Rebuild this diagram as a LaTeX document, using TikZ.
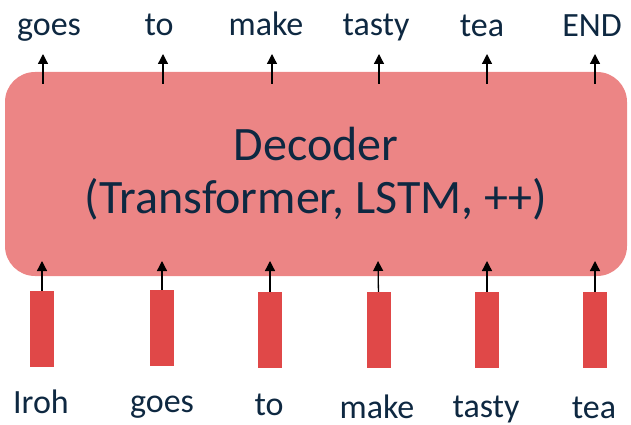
\documentclass[tikz,border=0pt]{standalone}
\usepackage{fontspec}
\setmainfont{Carlito}
\usetikzlibrary{arrows.meta}
\definecolor{ink}{HTML}{0E2841}
\definecolor{decfill}{HTML}{EC8585}
\definecolor{barfill}{HTML}{E04848}

\begin{document}
\begin{tikzpicture}[x=1pt,y=-1pt]
        \tikzstyle{every node}+=[inner sep=0pt]
        \tikzstyle{word}=[text=ink,font=\fontsize{34}{40}\selectfont,anchor=base]
        \tikzstyle{token}=[fill=barfill,minimum width=24pt,minimum height=76pt]
        \tikzstyle{up}=[-{Triangle[length=10pt,width=10pt]},line width=1.3pt]
        \useasboundingbox (0,0) rectangle (631,425);
        % decoder block
        \node [fill=decfill,rounded corners=30pt,minimum width=622pt,minimum height=204pt,
               text=ink,font=\fontsize{48}{53}\selectfont,align=center] (dec) at (316,174)
               {Decoder\\(Transformer, LSTM, ++)};
        % input tokens
        \node [token] (b1) at (42,329) {};
        \node [token] (b2) at (162,328) {};
        \node [token] (b3) at (270,330) {};
        \node [token] (b4) at (379,330) {};
        \node [token] (b5) at (487,330) {};
        \node [token] (b6) at (595,330) {};
        \coordinate (i1) at (42,261);
        \coordinate (i2) at (162,261);
        \coordinate (i3) at (270,261);
        \coordinate (i4) at (378,261);
        \coordinate (i5) at (487,261);
        \coordinate (i6) at (595,261);
        \draw [up] (b1) -- (i1);
        \draw [up] (b2) -- (i2);
        \draw [up] (b3) -- (i3);
        \draw [up] (b4) -- (i4);
        \draw [up] (b5) -- (i5);
        \draw [up] (b6) -- (i6);
        % outputs
        \coordinate (s1) at (43,84);
        \coordinate (s2) at (163,84);
        \coordinate (s3) at (272,84);
        \coordinate (s4) at (379,84);
        \coordinate (s5) at (487,84);
        \coordinate (s6) at (595,84);
        \coordinate (e1) at (43,54);
        \coordinate (e2) at (163,54);
        \coordinate (e3) at (272,54);
        \coordinate (e4) at (379,54);
        \coordinate (e5) at (487,54);
        \coordinate (e6) at (595,54);
        \draw [up] (s1) -- (e1);
        \draw [up] (s2) -- (e2);
        \draw [up] (s3) -- (e3);
        \draw [up] (s4) -- (e4);
        \draw [up] (s5) -- (e5);
        \draw [up] (s6) -- (e6);
        \node [word] (out1) at (49,36) {goes};
        \node [word] (out2) at (159,36) {to};
        \node [word] (out3) at (266,36) {make};
        \node [word] (out4) at (376,36) {tasty};
        \node [word] (out5) at (482,37) {tea};
        \node [word] (out6) at (592,37) {END};
        % input words
        \node [word] (w1) at (41,413) {Iroh};
        \node [word] (w2) at (162,412) {goes};
        \node [word] (w3) at (269,415) {to};
        \node [word] (w4) at (377,418) {make};
        \node [word] (w5) at (486,417) {tasty};
        \node [word] (w6) at (594,418) {tea};
        \end{tikzpicture}
\end{document}
